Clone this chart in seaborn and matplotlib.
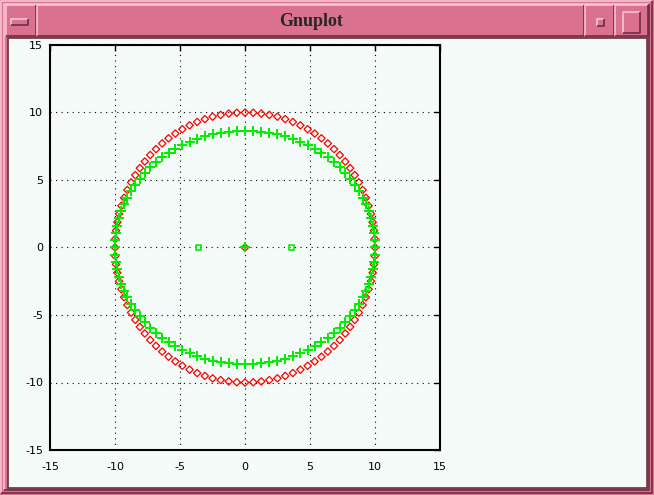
import matplotlib
matplotlib.use("Agg")
import matplotlib.pyplot as plt
from matplotlib.patches import Rectangle
import seaborn as sns

# points: circle (red diamonds), ellipse (green crosses)
circle_x = [
    10.00, 9.98, 9.92, 9.82, 9.69, 9.51, 9.30, 9.05, 8.76, 8.44, 8.09, 7.71, 7.29,
    6.85, 6.37, 5.88, 5.36, 4.82, 4.26, 3.68, 3.09, 2.49, 1.87, 1.25, 0.63,
    0.00, -0.63, -1.25, -1.87, -2.49, -3.09, -3.68, -4.26, -4.82, -5.36, -5.88, -6.37,
    -6.85, -7.29, -7.71, -8.09, -8.44, -8.76, -9.05, -9.30, -9.51, -9.69, -9.82, -9.92, -9.98,
    -10.00, -9.98, -9.92, -9.82, -9.69, -9.51, -9.30, -9.05, -8.76, -8.44, -8.09, -7.71, -7.29,
    -6.85, -6.37, -5.88, -5.36, -4.82, -4.26, -3.68, -3.09, -2.49, -1.87, -1.25, -0.63,
    0.00, 0.63, 1.25, 1.87, 2.49, 3.09, 3.68, 4.26, 4.82, 5.36, 5.88, 6.37,
    6.85, 7.29, 7.71, 8.09, 8.44, 8.76, 9.05, 9.30, 9.51, 9.69, 9.82, 9.92, 9.98,
]
circle_y = [
    0.00, 0.63, 1.25, 1.87, 2.49, 3.09, 3.68, 4.26, 4.82, 5.36, 5.88, 6.37,
    6.85, 7.29, 7.71, 8.09, 8.44, 8.76, 9.05, 9.30, 9.51, 9.69, 9.82, 9.92, 9.98,
    10.00, 9.98, 9.92, 9.82, 9.69, 9.51, 9.30, 9.05, 8.76, 8.44, 8.09, 7.71, 7.29,
    6.85, 6.37, 5.88, 5.36, 4.82, 4.26, 3.68, 3.09, 2.49, 1.87, 1.25, 0.63,
    0.00, -0.63, -1.25, -1.87, -2.49, -3.09, -3.68, -4.26, -4.82, -5.36, -5.88, -6.37,
    -6.85, -7.29, -7.71, -8.09, -8.44, -8.76, -9.05, -9.30, -9.51, -9.69, -9.82, -9.92, -9.98,
    -10.00, -9.98, -9.92, -9.82, -9.69, -9.51, -9.30, -9.05, -8.76, -8.44, -8.09, -7.71, -7.29,
    -6.85, -6.37, -5.88, -5.36, -4.82, -4.26, -3.68, -3.09, -2.49, -1.87, -1.25, -0.63,
]
ellipse_x = circle_x
ellipse_y = [
    0.00, 0.55, 1.08, 1.62, 2.16, 2.68, 3.19, 3.69, 4.17, 4.64, 5.09, 5.52,
    5.93, 6.31, 6.68, 7.01, 7.31, 7.59, 7.84, 8.05, 8.24, 8.39, 8.50, 8.59, 8.64,
    8.66, 8.64, 8.59, 8.50, 8.39, 8.24, 8.05, 7.84, 7.59, 7.31, 7.01, 6.68, 6.31,
    5.93, 5.52, 5.09, 4.64, 4.17, 3.69, 3.19, 2.68, 2.16, 1.62, 1.08, 0.55,
    0.00, -0.55, -1.08, -1.62, -2.16, -2.68, -3.19, -3.69, -4.17, -4.64, -5.09, -5.52,
    -5.93, -6.31, -6.68, -7.01, -7.31, -7.59, -7.84, -8.05, -8.24, -8.39, -8.50, -8.59, -8.64,
    -8.66, -8.64, -8.59, -8.50, -8.39, -8.24, -8.05, -7.84, -7.59, -7.31, -7.01, -6.68, -6.31,
    -5.93, -5.52, -5.09, -4.64, -4.17, -3.69, -3.19, -2.68, -2.16, -1.62, -1.08, -0.55,
]
center_x = [0.0]
center_y = [0.0]
focus_x = [-3.6, 3.6]
focus_y = [0.0, 0.0]
ticks = [-15, -10, -5, 0, 5, 10, 15]

W, H = 654, 495
PINK = "#d9718f"
LIGHT = "#f6c6d4"
DARK = "#6e2d40"
BG = "#f5fbf8"


def bevel(ax, x, y, w, h, fill=PINK, light=LIGHT, dark=DARK, lw=1.2):
    ax.add_patch(Rectangle((x, y), w, h, facecolor=fill, edgecolor="none"))
    ax.plot([x, x, x + w], [y + h, y, y], color=light, lw=lw, solid_capstyle="butt")
    ax.plot([x, x + w, x + w], [y + h, y + h, y], color=dark, lw=lw, solid_capstyle="butt")


sns.set_style("white")
plt.rcParams["font.family"] = ["DejaVu Sans"]
plt.rcParams["axes.unicode_minus"] = False

fig = plt.figure(figsize=(W / 100, H / 100), dpi=100, facecolor=PINK)

# window frame drawn in pixel space
frame = fig.add_axes([0, 0, 1, 1], zorder=0)
frame.set_xlim(0, W)
frame.set_ylim(H, 0)
frame.axis("off")
bevel(frame, 1, 1, W - 3, H - 3)
bevel(frame, 4, 4, W - 9, H - 9)
bevel(frame, 6, 5, 30, 31)
bevel(frame, 37, 5, 547, 31)
bevel(frame, 585, 5, 29, 31)
bevel(frame, 615, 5, 33, 31)
bevel(frame, 11, 19, 17, 6)
bevel(frame, 597, 19, 7, 7)
bevel(frame, 623, 12, 17, 21)
frame.add_patch(Rectangle((8, 38), 639, 450, facecolor=BG, edgecolor=DARK, lw=1.2))
frame.text(311, 21, "Gnuplot", ha="center", va="center", fontsize=13,
           fontweight="bold", family=["Liberation Serif", "DejaVu Serif"])

ax = fig.add_axes([50 / W, 45 / H, 390 / W, 405 / H], zorder=1)
ax.set_facecolor("none")

sns.scatterplot(x=circle_x, y=circle_y, marker="D", s=14, facecolor="none",
                edgecolor="#ff0000", linewidth=0.9, ax=ax, zorder=3)
sns.scatterplot(x=center_x, y=center_y, marker="D", s=14, facecolor="none",
                edgecolor="#ff0000", linewidth=0.9, ax=ax, zorder=3)
sns.scatterplot(x=ellipse_x, y=ellipse_y, marker="+", s=45, color="#00ee00",
                linewidth=1.4, ax=ax, zorder=4)
sns.scatterplot(x=center_x, y=center_y, marker="+", s=45, color="#00ee00",
                linewidth=1.4, ax=ax, zorder=4)
sns.scatterplot(x=focus_x, y=focus_y, marker="s", s=14, facecolor="none",
                edgecolor="#00ee00", linewidth=1.2, ax=ax, zorder=4)

ax.set_xlim(-15, 15)
ax.set_ylim(-15, 15)
ax.set_xticks(ticks)
ax.set_yticks(ticks)
ax.set_xticklabels([str(t) for t in ticks])
ax.set_yticklabels([str(t) for t in ticks])
ax.set_xlabel("")
ax.set_ylabel("")
ax.grid(True, color="black", linestyle=(0, (1, 4)), linewidth=0.8)
ax.set_axisbelow(True)
for sp in ax.spines.values():
    sp.set_color("black")
    sp.set_linewidth(1.5)
    sp.set_visible(True)
ax.tick_params(direction="in", length=4, width=1, top=True, right=True,
               labelsize=8, colors="black")
ax.tick_params(axis="x", pad=9)
ax.tick_params(axis="y", pad=5)

fig.savefig("out.png", dpi=100, facecolor=PINK)
